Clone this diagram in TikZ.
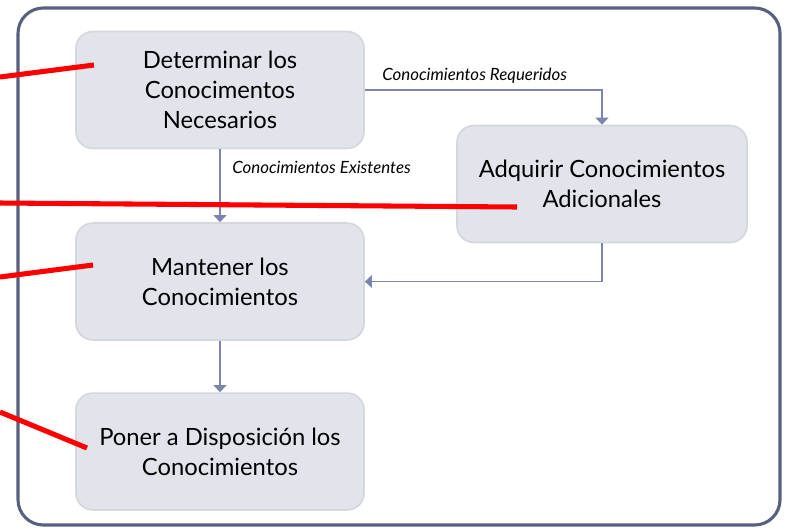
\documentclass[tikz,border=0pt]{standalone}
\usepackage{fontspec}
\setmainfont{Lato}
\definecolor{boxfill}{RGB}{225, 228, 235}
\definecolor{boxline}{RGB}{212, 215, 222}
\definecolor{flowblue}{RGB}{124, 132, 176}
\definecolor{frameblue}{RGB}{88, 96, 128}
\definecolor{markred}{RGB}{255, 0, 0}
\usetikzlibrary{arrows.meta, positioning, calc}

\begin{document}
\begin{tikzpicture}[x=0.025cm, y=-0.025cm,
  box/.style={draw=boxline, fill=boxfill, line width=1.2pt, rounded corners=12pt, minimum width=7.2cm, minimum height=2.92cm, align=center, inner sep=4pt, font=\fontsize{16.9}{21.3}\selectfont},
  arrow/.style={-{Triangle[length=5pt, width=9pt]}, flowblue, line width=1.1pt},
  tag/.style={anchor=west, inner sep=0pt, font=\itshape\fontsize{12}{14}\selectfont},
  redline/.style={markred, line width=3.6pt}
]
  \useasboundingbox (0,0) rectangle (786,527);

  % Outer frame
  \draw[frameblue, line width=2.2pt, rounded corners=18pt] (18,8) rectangle (780,525);

  % Steps
  \node[box] (determinar) at (220, 90) {Determinar los\\Conocimentos\\Necesarios};
  \node[box, minimum width=7.25cm] (adquirir) at (602, 184) {Adquirir Conocimientos\\Adicionales};
  \node[box] (mantener) at (220, 281.5) {Mantener los\\Conocimientos};
  \node[box] (poner) at (220, 451.5) {Poner a Disposición los\\Conocimientos};

  % Flow
  \draw[arrow] (determinar.east) -| (adquirir.north);
  \draw[arrow] (determinar.south) -- (mantener.north);
  \draw[arrow] (adquirir.south) |- (mantener.east);
  \draw[arrow] (mantener.south) -- (poner.north);

  \node[tag] (requeridos) at (382, 76) {Conocimientos Requeridos};
  \node[tag] (existentes) at (232, 167) {Conocimientos Existentes};

  % Red marks
  \coordinate (m1a) at (0, 77);   \coordinate (m1b) at (94, 65);
  \coordinate (m2a) at (0, 203);  \coordinate (m2b) at (517, 207);
  \coordinate (m3a) at (0, 277);  \coordinate (m3b) at (93, 265);
  \coordinate (m4a) at (0, 412);  \coordinate (m4b) at (87, 448);
  \draw[redline] (m1a) -- (m1b);
  \draw[redline] (m2a) -- (m2b);
  \draw[redline] (m3a) -- (m3b);
  \draw[redline] (m4a) -- (m4b);
\end{tikzpicture}
\end{document}
